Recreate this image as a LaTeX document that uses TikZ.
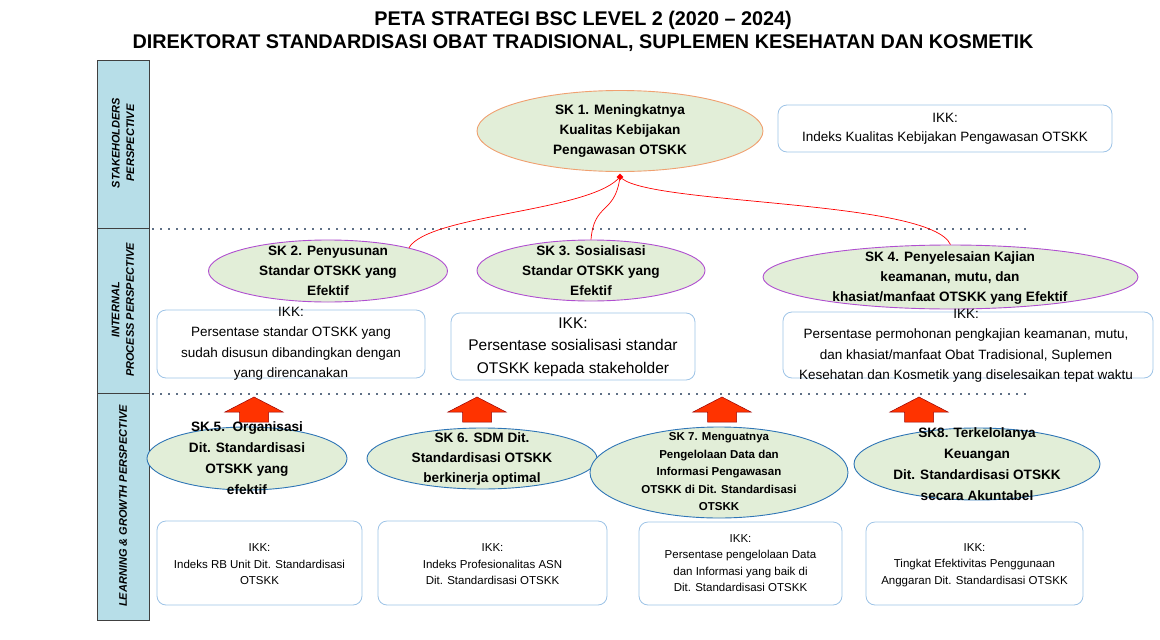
\documentclass[tikz,border=0pt]{standalone}
\usepackage{fontspec}
\setmainfont{Liberation Sans}
\usetikzlibrary{shapes.geometric}

\definecolor{skfill}{HTML}{E2EED8}
\definecolor{skorange}{HTML}{F0A070}
\definecolor{skpurple}{HTML}{B04FD0}
\definecolor{skblue}{HTML}{2E75B6}
\definecolor{ikkline}{HTML}{9DC3E6}
\definecolor{barfill}{HTML}{B7DEE8}
\definecolor{arrowred}{HTML}{FF3300}
\definecolor{dotgray}{HTML}{5F6F85}

\begin{document}
\begin{tikzpicture}[x=1pt,y=-1pt,
	sk/.style={ellipse, fill=skfill, line width=0.9pt, inner sep=0pt},
	sktext/.style={align=center, font=\bfseries\fontsize{13.6}{20}\selectfont},
	ikkbox/.style={rounded corners=9pt, draw=ikkline, line width=0.8pt},
	ikktext/.style={align=center, font=\fontsize{13.5}{20.5}\selectfont},
	smalltext/.style={align=center, font=\fontsize{11.5}{16.5}\selectfont},
	bar/.style={fill=barfill, draw=black!75, line width=0.8pt},
	bartext/.style={rotate=90, align=center, font=\bfseries\itshape\fontsize{11}{14.5}\selectfont},
	sepline/.style={dotgray, line width=2.4pt, dash pattern=on 2pt off 6pt},
	link/.style={red, line width=0.7pt},
	uparrow/.style={fill=arrowred, draw=red!60!black, line width=0.5pt}]

	\useasboundingbox (0,0) rectangle (1160,640);

	% judul
	\node[font=\bfseries\fontsize{19.8}{23}\selectfont] (title1) at (583,20) {PETA STRATEGI BSC LEVEL 2 (2020 – 2024)};
	\node[font=\bfseries\fontsize{19.8}{23}\selectfont] (title2) at (583,43) {DIREKTORAT STANDARDISASI OBAT TRADISIONAL, SUPLEMEN KESEHATAN DAN KOSMETIK};

	% perspektif
	\draw[bar] (97,60) rectangle (149,228);
	\draw[bar] (97,228) rectangle (149,393);
	\draw[bar] (97,393) rectangle (149,620);
	\node[bartext] (persp1) at (123,143) {STAKEHOLDERS\\PERSPECTIVE};
	\node[bartext] (persp2) at (123,310) {INTERNAL\\PROCESS PERSPECTIVE};
	\node[bartext] (persp3) at (123,506) {LEARNING \& GROWTH PERSPECTIVE};

	\draw[sepline] (152,229) -- (1030,229);
	\draw[sepline] (152,394) -- (1030,394);

	% stakeholders
	\node[sk, draw=skorange, minimum width=286pt, minimum height=81pt] (sk1) at (620,131) {};
	\node[sktext] (sk1t) at (sk1) {SK 1. Meningkatnya\\Kualitas Kebijakan\\Pengawasan OTSKK};
	\node[ikkbox, minimum width=334pt, minimum height=47pt] (ikk1) at (945,128.5) {};
	\node[ikktext, font=\fontsize{13.5}{19}\selectfont] (ikk1t) at (ikk1) {IKK:\\Indeks Kualitas Kebijakan Pengawasan OTSKK};

	% internal process
	\node[sk, draw=skpurple, minimum width=239pt, minimum height=62pt] (sk2) at (328,271) {};
	\node[sktext] (sk2t) at (sk2) {SK 2. Penyusunan\\Standar OTSKK yang\\Efektif};
	\node[sk, draw=skpurple, minimum width=228pt, minimum height=61pt] (sk3) at (591,270.5) {};
	\node[sktext] (sk3t) at (591,271) {SK 3. Sosialisasi\\Standar OTSKK yang\\Efektif};
	\node[sk, draw=skpurple, minimum width=375pt, minimum height=64pt] (sk4) at (950.5,277) {};
	\node[sktext] (sk4t) at (950,278) {SK 4. Penyelesaian Kajian\\keamanan, mutu, dan\\khasiat/manfaat OTSKK yang Efektif};

	\node[ikkbox, minimum width=268pt, minimum height=68pt] (ikk2) at (291,344) {};
	\node[ikktext] (ikk2t) at (ikk2) {IKK:\\Persentase standar OTSKK yang\\sudah disusun dibandingkan dengan\\yang direncanakan};
	\node[ikkbox, minimum width=244pt, minimum height=67pt] (ikk3) at (573,346.5) {};
	\node[ikktext, font=\fontsize{15.5}{22.5}\selectfont] (ikk3t) at (573,347) {IKK:\\Persentase sosialisasi standar\\OTSKK kepada stakeholder};
	\node[ikkbox, minimum width=370pt, minimum height=66pt] (ikk4) at (968,345) {};
	\node[ikktext] (ikk4t) at (966,346) {IKK:\\Persentase permohonan pengkajian keamanan, mutu,\\dan khasiat/manfaat Obat Tradisional, Suplemen\\Kesehatan dan Kosmetik yang diselesaikan tepat waktu};

	% hubungan ke SK 1
	\node[diamond, fill=red, inner sep=1.7pt] (hub) at (620,177) {};
	\draw[link] (sk2.16) .. controls (428,215) and (585,212) .. (hub);
	\draw[link] (sk3.north) .. controls (594,203) and (614,214) .. (hub);
	\draw[link] (sk4.north) .. controls (930,200) and (655,205) .. (hub);

	% panah ke atas
	\foreach \ax in {254,477,722,919}
		\draw[uparrow] (\ax,397) -- ++(29,15) -- ++(-14.5,0) -- ++(0,10) -- ++(-29,0) -- ++(0,-10) -- ++(-14.5,0) -- cycle;

	% learning & growth
	\node[sk, draw=skblue, minimum width=200pt, minimum height=63pt] (sk5) at (247,458.5) {};
	\node[sktext, font=\bfseries\fontsize{13.6}{21}\selectfont] (sk5t) at (247,458) {SK.5.\ \ Organisasi\\Dit. Standardisasi\\OTSKK yang\\efektif};
	\node[sk, draw=skblue, minimum width=230pt, minimum height=61pt] (sk6) at (482,458.5) {};
	\node[sktext] (sk6t) at (482,459) {SK 6. SDM Dit.\\Standardisasi OTSKK\\berkinerja optimal};
	\node[sk, draw=skblue, minimum width=258pt, minimum height=91pt] (sk7) at (719,472.5) {};
	\node[sktext, font=\bfseries\fontsize{11.5}{17.5}\selectfont] (sk7t) at (719,472) {SK 7. Menguatnya\\Pengelolaan Data dan\\Informasi Pengawasan\\OTSKK di Dit. Standardisasi\\OTSKK};
	\node[sk, draw=skblue, minimum width=246pt, minimum height=72pt] (sk8) at (977,464) {};
	\node[sktext, font=\bfseries\fontsize{13.6}{21}\selectfont] (sk8t) at (977,464) {SK8. Terkelolanya\\Keuangan\\Dit. Standardisasi OTSKK\\secara Akuntabel};

	\node[ikkbox, minimum width=205pt, minimum height=84pt] (ikk5) at (259.5,563) {};
	\node[smalltext] (ikk5t) at (259.5,564.5) {IKK:\\Indeks RB Unit Dit. Standardisasi\\OTSKK};
	\node[ikkbox, minimum width=229pt, minimum height=84pt] (ikk6) at (492.5,563) {};
	\node[smalltext] (ikk6t) at (492.5,564.5) {IKK:\\Indeks Profesionalitas ASN\\Dit. Standardisasi OTSKK};
	\node[ikkbox, minimum width=203pt, minimum height=83pt] (ikk7) at (740.5,563.5) {};
	\node[smalltext] (ikk7t) at (740.5,563) {IKK:\\Persentase pengelolaan Data\\dan Informasi yang baik di\\Dit. Standardisasi OTSKK};
	\node[ikkbox, minimum width=217pt, minimum height=83pt] (ikk8) at (974.5,563.5) {};
	\node[smalltext] (ikk8t) at (974.5,565) {IKK:\\Tingkat Efektivitas Penggunaan\\Anggaran Dit. Standardisasi OTSKK};

\end{tikzpicture}
\end{document}
